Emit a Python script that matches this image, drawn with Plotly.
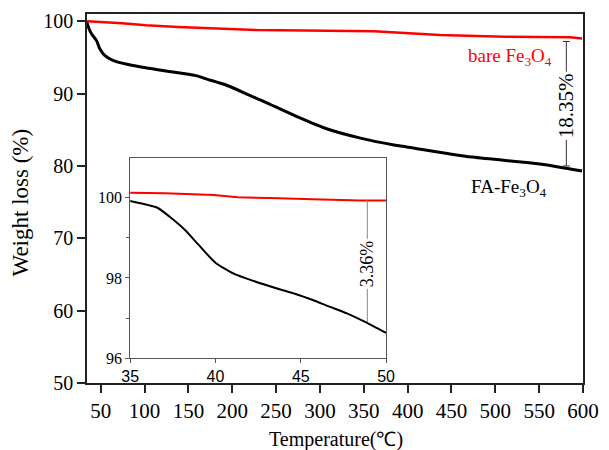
import plotly.graph_objects as go

# ---- main data (Temperature in C, weight %) ----
fa_T = [34.0, 36.5, 39.6, 45.2, 48.9, 54.5, 63.8, 80.0, 101.1, 138.3, 160.7, 168.2, 194.2, 219.9, 235.6,
        272.5, 309.4, 347.4, 384.3, 398.8, 473.7, 548.6, 598.9]
fa_W = [99.9, 99.0, 98.23, 97.32, 96.2, 95.28, 94.6, 94.05, 93.56, 92.88, 92.42, 92.1, 91.12, 89.76, 88.94,
        86.9, 85.07, 83.81, 82.9, 82.62, 81.22, 80.3, 79.3]

bare_T = [34.3, 50.0, 74.6, 101.4, 138.3, 227.8, 300.0, 362.0, 436.8, 510.6, 585.5, 598.9]
bare_W = [100.0, 99.92, 99.73, 99.46, 99.22, 98.78, 98.68, 98.6, 98.1, 97.86, 97.78, 97.6]

# ---- inset data ----
in_fa_T = [35.0, 36.6, 37.3, 38.2, 39.0, 40.0, 41.1, 42.2, 43.75, 44.7, 45.7, 46.6, 47.7, 48.8, 50.0]
in_fa_W = [99.92, 99.75, 99.53, 99.2, 98.83, 98.38, 98.1, 97.93, 97.72, 97.6, 97.45, 97.3, 97.12, 96.9, 96.63]
in_bare_T = [35.0, 37.05, 39.9, 41.3, 43.2, 44.7, 45.7, 48.5, 50.0]
in_bare_W = [100.12, 100.11, 100.07, 100.01, 99.99, 99.98, 99.96, 99.93, 99.93]

main_xticks = [50, 100, 150, 200, 250, 300, 350, 400, 450, 500, 550, 600]
main_yticks = [50, 60, 70, 80, 90, 100]
inset_xticks = [35, 40, 45, 50]
inset_yticks = [96, 98, 100]

# annotation positions
main_gap_T, main_gap_top, main_gap_bot, main_gap_text = 581, 97.2, 80.0, 88.3
in_gap_T, in_gap_top, in_gap_bot, in_gap_text = 48.9, 99.94, 96.9, 98.35

SERIF = "Liberation Serif, Times New Roman, serif"
SANS = "Liberation Sans, Arial, sans-serif"

fig = go.Figure()
fig.add_trace(go.Scatter(x=fa_T, y=fa_W, mode="lines", line=dict(color="black", width=3, shape="spline", smoothing=0.8),
                         showlegend=False, xaxis="x", yaxis="y"))
fig.add_trace(go.Scatter(x=bare_T, y=bare_W, mode="lines", line=dict(color="#ff0000", width=2.5),
                         showlegend=False, xaxis="x", yaxis="y"))
fig.add_trace(go.Scatter(x=in_fa_T, y=in_fa_W, mode="lines", line=dict(color="black", width=2, shape="spline", smoothing=0.6),
                         showlegend=False, xaxis="x2", yaxis="y2"))
fig.add_trace(go.Scatter(x=in_bare_T, y=in_bare_W, mode="lines", line=dict(color="#ff0000", width=2),
                         showlegend=False, xaxis="x2", yaxis="y2"))

axis_col = "#222222"
fig.update_layout(
    width=609, height=450,
    margin=dict(l=87, r=16, t=10, b=67),
    paper_bgcolor="white", plot_bgcolor="white",
    font=dict(family=SERIF, color="black"),
    xaxis=dict(domain=[0, 1], range=[34.3, 600], tickvals=main_xticks, ticks="outside", ticklen=8, tickwidth=1.5,
               tickcolor=axis_col, showline=True, linecolor=axis_col, linewidth=1.5, mirror=True, showgrid=False,
               zeroline=False, tickfont=dict(family=SERIF, size=21, color="black")),
    yaxis=dict(domain=[0, 1], range=[50, 101], tickvals=main_yticks, ticks="outside", ticklen=8, tickwidth=1.5,
               tickcolor=axis_col, showline=True, linecolor=axis_col, linewidth=1.5, mirror=True, showgrid=False,
               zeroline=False, tickfont=dict(family=SERIF, size=20, color="black")),
    xaxis2=dict(domain=[0.087, 0.603], anchor="y2", range=[35, 50], tickvals=inset_xticks, ticks="outside",
                ticklen=4, tickcolor="#555", showline=True, linecolor="#555", linewidth=1, mirror=True,
                showgrid=False, zeroline=False, tickfont=dict(family=SANS, size=16, color="black")),
    yaxis2=dict(domain=[0.067, 0.611], anchor="x2", range=[96, 101], tickvals=inset_yticks, ticks="outside",
                ticklen=4, tickcolor="#555", showline=True, linecolor="#555", linewidth=1, mirror=True,
                showgrid=False, zeroline=False, tickfont=dict(family=SERIF, size=16, color="black"),
                minor=dict(tickvals=[97, 99], ticks="outside", ticklen=3, tickcolor="#555")),
)

shapes = [
    dict(type="line", xref="x", yref="y", x0=main_gap_T, x1=main_gap_T, y0=main_gap_top, y1=main_gap_bot,
         line=dict(color="#333", width=1)),
    dict(type="line", xref="x", yref="y", x0=main_gap_T - 4, x1=main_gap_T + 4, y0=main_gap_top, y1=main_gap_top,
         line=dict(color="#333", width=1)),
    dict(type="line", xref="x", yref="y", x0=main_gap_T - 4, x1=main_gap_T + 4, y0=main_gap_bot, y1=main_gap_bot,
         line=dict(color="#333", width=1)),
    dict(type="line", xref="x2", yref="y2", x0=in_gap_T, x1=in_gap_T, y0=in_gap_top, y1=in_gap_bot,
         line=dict(color="#888", width=1)),
]
fig.update_layout(shapes=shapes)

annotations = [
    dict(x=main_gap_T, y=main_gap_text, xref="x", yref="y", text="18.35%", textangle=-90, showarrow=False,
         bgcolor="white", borderpad=1, font=dict(family=SERIF, size=21, color="black")),
    dict(x=in_gap_T, y=in_gap_text, xref="x2", yref="y2", text="3.36%", textangle=-90, showarrow=False,
         bgcolor="white", borderpad=1, font=dict(family=SERIF, size=18, color="black")),
    dict(x=517, y=95.0, xref="x", yref="y", text="bare Fe<sub>3</sub>O<sub>4</sub>", showarrow=False,
         font=dict(family=SERIF, size=19, color="#ff0000")),
    dict(x=516, y=77.0, xref="x", yref="y", text="FA-Fe<sub>3</sub>O<sub>4</sub>", showarrow=False,
         font=dict(family=SERIF, size=19, color="black")),
    dict(x=0.502, y=-0.153, xref="paper", yref="paper", xanchor="center", yanchor="middle",
         text="Temperature(℃)", showarrow=False, font=dict(family=SERIF, size=20, color="black")),
    dict(x=-0.134, y=0.488, xref="paper", yref="paper", xanchor="center", yanchor="middle",
         text="Weight loss (%)", textangle=-90, showarrow=False, font=dict(family=SERIF, size=23, color="black")),
]
fig.update_layout(annotations=annotations)

fig.write_html("out.html")
